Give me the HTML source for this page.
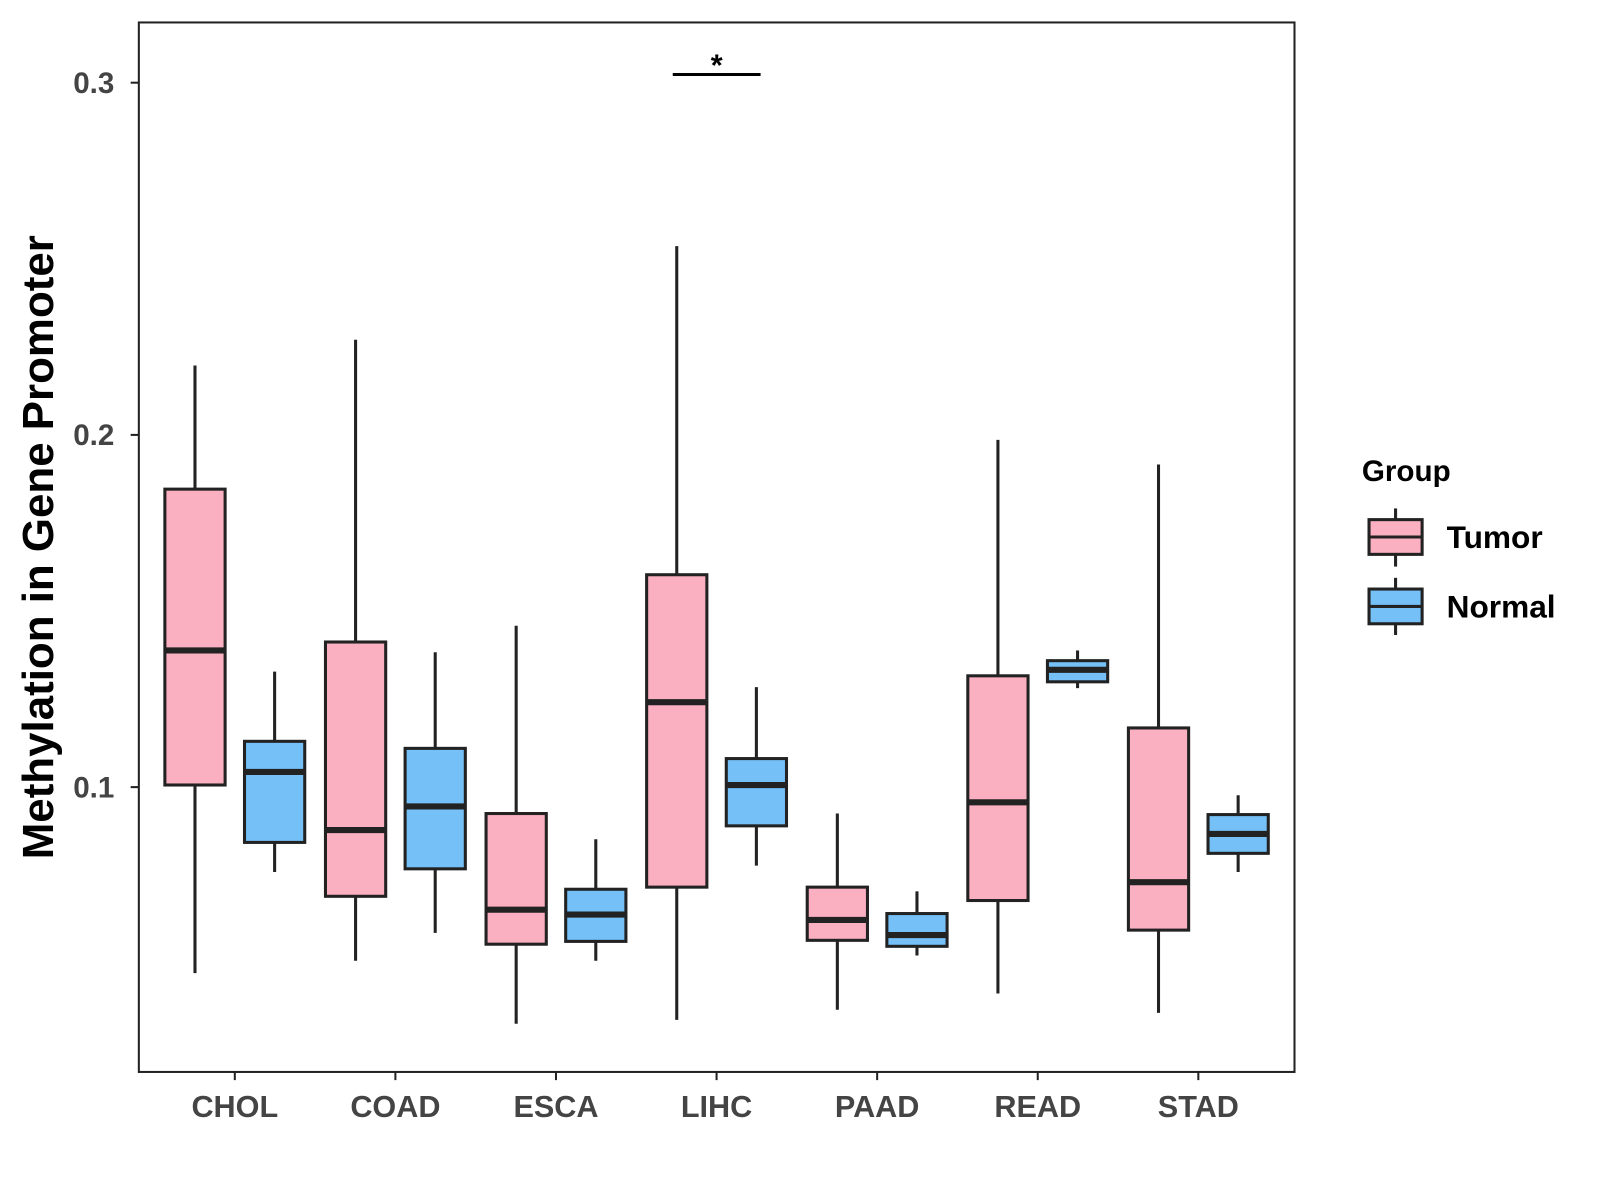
<!DOCTYPE html>
<html><head><meta charset="utf-8"><style>
body{margin:0;background:#fff}
svg{display:block;font-family:"Liberation Sans",Arial,sans-serif}
</style></head><body>
<svg id="chart" width="1600" height="1200" viewBox="0 0 1600 1200">
<g transform="scale(1.0209)">
<rect x="136" y="22" width="1132" height="1028" fill="#fff" stroke="#222" stroke-width="2"/>
<g id="boxes"></g>
<g id="axes"></g>
<text transform="translate(52,536) rotate(-90)" text-anchor="middle" font-size="43" font-weight="bold" fill="#000">Methylation in Gene Promoter</text>
<g>
<line x1="659" y1="73" x2="745" y2="73" stroke="#000" stroke-width="3"/>
<text x="702" y="74" text-anchor="middle" font-size="30" font-weight="bold">*</text>
</g>
<g>
<text x="1334" y="471" font-size="29" font-weight="bold">Group</text>
<g>
<line x1="1367" y1="498" x2="1367" y2="555" stroke="#222" stroke-width="3"/>
<rect x="1341" y="509" width="52" height="34" fill="#fbb0c2" stroke="#222" stroke-width="3"/>
<line x1="1341" y1="526" x2="1393" y2="526" stroke="#222" stroke-width="3"/>
<text x="1417" y="537" font-size="31" font-weight="bold">Tumor</text></g>
<g>
<line x1="1367" y1="566" x2="1367" y2="622" stroke="#222" stroke-width="3"/>
<rect x="1341" y="577" width="52" height="34" fill="#74c0f7" stroke="#222" stroke-width="3"/>
<line x1="1341" y1="594" x2="1393" y2="594" stroke="#222" stroke-width="3"/>
<text x="1417" y="605" font-size="31" font-weight="bold">Normal</text></g>
</g>
</g>
</svg>
<script>
const categories=["CHOL","COAD","ESCA","LIHC","PAAD","READ","STAD"];
const groups=["Tumor","Normal"];
// [lowWhisker, q1, median, q3, highWhisker]
const tumorStats=[[0.0472,0.1006,0.1388,0.1846,0.2197],[0.0507,0.0690,0.0878,0.1412,0.2270],[0.0328,0.0554,0.0652,0.0925,0.1458],[0.0339,0.0716,0.1241,0.1603,0.2536],[0.0368,0.0565,0.0623,0.0716,0.0925],[0.0414,0.0678,0.0957,0.1316,0.1986],[0.0359,0.0594,0.0730,0.1168,0.1916]];
const normalStats=[[0.0759,0.0843,0.1043,0.1130,0.1328],[0.0586,0.0768,0.0945,0.1110,0.1383],[0.0507,0.0562,0.0638,0.0710,0.0852],[0.0777,0.0890,0.1006,0.1081,0.1284],[0.0522,0.0548,0.0580,0.0641,0.0704],[0.1281,0.1299,0.1333,0.1359,0.1388],[0.0759,0.0812,0.0867,0.0922,0.0977]];
const yTicks=[0.1,0.2,0.3];
const yTickLabels=["0.1","0.2","0.3"];
const NS="http://www.w3.org/2000/svg";
const y=v=>81+(0.3-v)*3450;
const x=i=>230+i*157.3;
function mk(t,a,p){const e=document.createElementNS(NS,t);for(const k in a)e.setAttribute(k,a[k]);p.appendChild(e);return e;}
const B=document.getElementById('boxes'),A=document.getElementById('axes');
const fills=["#fbb0c2","#74c0f7"];
[tumorStats,normalStats].forEach((S,g)=>{S.forEach((s,i)=>{
 const cx=x(i)+(g?39:-39),w=59;
 const grp=mk('g',{},B);
 
 
 mk('line',{x1:cx,x2:cx,y1:y(s[4]),y2:y(s[0]),stroke:"#222","stroke-width":3},grp);
 mk('rect',{x:cx-w/2,y:y(s[3]),width:w,height:y(s[1])-y(s[3]),fill:fills[g],stroke:"#222","stroke-width":3},grp);
 mk('line',{x1:cx-w/2,x2:cx+w/2,y1:y(s[2]),y2:y(s[2]),stroke:"#222","stroke-width":6},grp);
});});
yTicks.forEach((v,i)=>{
 mk('line',{x1:128,x2:136,y1:y(v),y2:y(v),stroke:"#222","stroke-width":2},A);
 const t=mk('text',{x:112,y:y(v)+10,"text-anchor":"end","font-size":29,"font-weight":"bold",fill:"#444"},A);
 t.textContent=yTickLabels[i];
 
 
});
categories.forEach((c,i)=>{
 mk('line',{x1:x(i),x2:x(i),y1:1050,y2:1058,stroke:"#222","stroke-width":2},A);
 const t=mk('text',{x:x(i),y:1094,"text-anchor":"middle","font-size":30,"font-weight":"bold",fill:"#444"},A);
 t.textContent=c;
 
 
});
</script>
</body></html>
